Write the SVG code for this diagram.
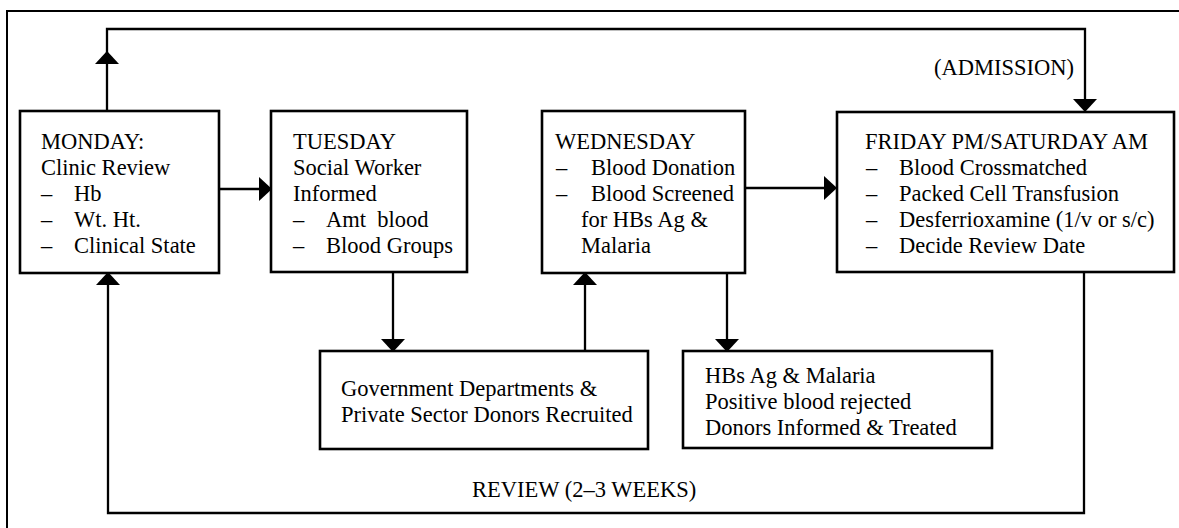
<svg xmlns="http://www.w3.org/2000/svg" width="1179" height="528" viewBox="0 0 1179 528">
<style>
text { font-family: "Liberation Serif", "Times New Roman", serif; font-size: 22.5px; fill: #000; }
.box { fill: #fff; stroke: #000; stroke-width: 2.6; }
.line { fill: none; stroke: #000; stroke-width: 2.3; }
.head { fill: #000; stroke: none; }
.frame { fill: none; stroke: #000; stroke-width: 2; }
</style>
<rect width="1179" height="528" fill="#fff"/>
<rect class="frame" x="7" y="11" width="1190" height="540"/>
<g id="connectors">
  <path class="line" d="M107,111 V29 H1085 V101"/>
  <path class="line" d="M219,189 H260"/>
  <path class="line" d="M745,188 H825"/>
  <path class="line" d="M393,272 V340"/>
  <path class="line" d="M585,351 V284"/>
  <path class="line" d="M727,273 V340"/>
  <path class="line" d="M1084,272 V513 H108 V284"/>
  <polygon class="head" points="107,51 95,64 119,64"/>
  <polygon class="head" points="1085,112 1073,99 1097,99"/>
  <polygon class="head" points="272,189 259,177 259,201"/>
  <polygon class="head" points="837,188 824,176 824,200"/>
  <polygon class="head" points="393,352 381,339 405,339"/>
  <polygon class="head" points="585,272 573,285 597,285"/>
  <polygon class="head" points="727,352 715,339 739,339"/>
  <polygon class="head" points="108,272 96,285 120,285"/>
  <text x="934" y="75">(ADMISSION)</text>
  <text x="472" y="497">REVIEW (2–3 WEEKS)</text>
</g>
<g id="monday">
  <rect class="box" x="20" y="111" width="199" height="162"/>
  <text x="41" y="149">MONDAY:</text>
  <text x="41" y="175">Clinic Review</text>
  <text x="41" y="201">–</text><text x="74" y="201">Hb</text>
  <text x="41" y="227">–</text><text x="74" y="227">Wt. Ht.</text>
  <text x="41" y="253">–</text><text x="74" y="253">Clinical State</text>
</g>
<g id="tuesday">
  <rect class="box" x="271" y="111" width="196" height="161"/>
  <text x="293" y="149">TUESDAY</text>
  <text x="293" y="175">Social Worker</text>
  <text x="293" y="201">Informed</text>
  <text x="293" y="227">–</text><text x="326" y="227" xml:space="preserve">Amt  blood</text>
  <text x="293" y="253">–</text><text x="326" y="253">Blood Groups</text>
</g>
<g id="wednesday">
  <rect class="box" x="542" y="111" width="203" height="162"/>
  <text x="555" y="149">WEDNESDAY</text>
  <text x="556" y="175">–</text><text x="591" y="175">Blood Donation</text>
  <text x="556" y="201">–</text><text x="591" y="201">Blood Screened</text>
  <text x="581" y="227">for HBs Ag &amp;</text>
  <text x="581" y="253">Malaria</text>
</g>
<g id="friday">
  <rect class="box" x="837" y="112" width="337" height="160"/>
  <text x="865" y="149">FRIDAY PM/SATURDAY AM</text>
  <text x="866" y="175">–</text><text x="899" y="175">Blood Crossmatched</text>
  <text x="866" y="201">–</text><text x="899" y="201">Packed Cell Transfusion</text>
  <text x="866" y="227">–</text><text x="899" y="227">Desferrioxamine (1/v or s/c)</text>
  <text x="866" y="253">–</text><text x="899" y="253">Decide Review Date</text>
</g>
<g id="government">
  <rect class="box" x="320" y="351" width="328" height="98"/>
  <text x="341" y="396">Government Departments &amp;</text>
  <text x="341" y="422">Private Sector Donors Recruited</text>
</g>
<g id="rejected">
  <rect class="box" x="683" y="351" width="309" height="97"/>
  <text x="705" y="383">HBs Ag &amp; Malaria</text>
  <text x="705" y="409">Positive blood rejected</text>
  <text x="705" y="435">Donors Informed &amp; Treated</text>
</g>
</svg>
